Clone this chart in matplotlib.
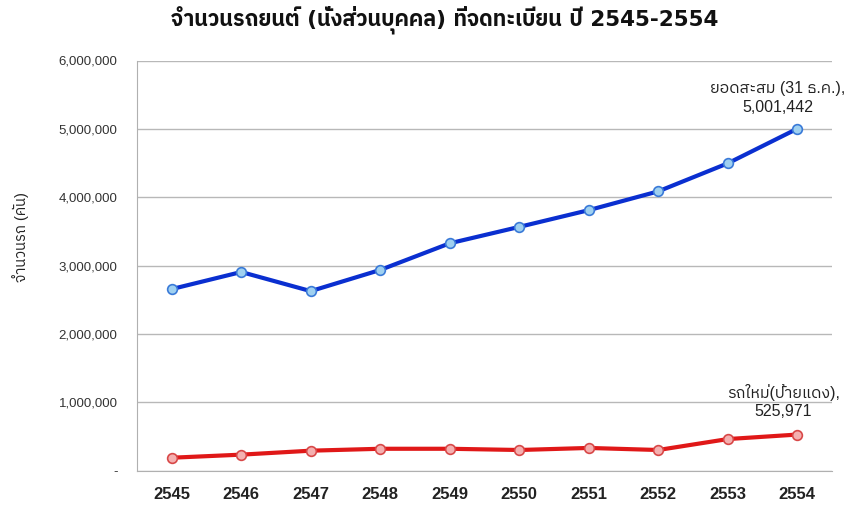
import matplotlib
matplotlib.use("Agg")
from matplotlib import pyplot as plt
from matplotlib import font_manager
from matplotlib.ticker import FuncFormatter

# data
years = ["2545", "2546", "2547", "2548", "2549", "2550", "2551", "2552", "2553", "2554"]
total_cars = [2655000, 2905000, 2625000, 2935000, 3325000, 3565000, 3810000, 4085000, 4495000, 5001442]
new_cars = [187000, 232000, 290000, 318000, 318000, 300000, 330000, 300000, 460000, 525971]

# pick a loopless font that has Thai glyphs and a real bold face
bold_names = set(f.name for f in font_manager.fontManager.ttflist if f.weight in (700, 'bold'))
thai = "DejaVu Sans"
for n in ["IBM Plex Sans Thai", "Noto Sans Thai", "Anuphan", "Prompt", "Bai Jamjuree", "Sarabun"]:
    if n in bold_names:
        thai = n
        break
plt.rcParams['font.family'] = ['Liberation Sans', thai, 'DejaVu Sans']

fig = plt.figure(figsize=(8.56, 5.05), dpi=100)
ax = fig.add_axes([137 / 856, 1 - 470.5 / 505, (832 - 137) / 856, (470.5 - 60.5) / 505])

x = list(range(len(years)))
ax.plot(x, total_cars, color='#0a2fd0', lw=3, marker='o', ms=7,
        mfc='#9fd0f0', mec='#3a7ad8', mew=1.2, zorder=3)
ax.plot(x, new_cars, color='#e01818', lw=3, marker='o', ms=7,
        mfc='#f4b0b0', mec='#d84848', mew=1.2, zorder=3)

ax.set_xlim(-0.5, len(years) - 0.5)
ax.set_ylim(0, 6000000)
ax.set_yticks(range(0, 6000001, 1000000))
ax.yaxis.set_major_formatter(FuncFormatter(lambda v, p: '-' if v == 0 else '{:,.0f}'.format(v)))
ax.set_xticks(x)
ax.set_xticklabels(years, fontsize=12, fontweight='bold', color='#222222')
ax.tick_params(axis='x', length=0, pad=12)
ax.tick_params(axis='y', length=0, pad=14, labelsize=9.5, labelcolor='#333333')
ax.grid(axis='y', color='#b8b8b8', lw=1)
ax.set_axisbelow(True)
for s in ['top', 'right']:
    ax.spines[s].set_visible(False)
ax.spines['left'].set_color('#b0b0b0')
ax.spines['bottom'].set_color('#b0b0b0')

ax.set_ylabel('จำนวนรถ (คัน)', fontsize=10.5, color='#222222')
ax.yaxis.set_label_coords(-108 / 695, 0.57)

fig.suptitle('จำนวนรถยนต์ (นั่งส่วนบุคคล) ที่จดทะเบียน ปี 2545-2554',
             x=445 / 856, y=1 - 5 / 505, va='top', fontsize=15.5, fontweight='bold',
             color='#111111', family=['DejaVu Sans', thai])

ax.annotate('ยอดสะสม (31 ธ.ค.),\n5,001,442', (x[-1], total_cars[-1]),
            xytext=(-14, 10), textcoords='offset points', ha='center', va='bottom',
            fontsize=11.5, color='#222222', linespacing=1.3)
ax.annotate('รถใหม่(ป้ายแดง),\n525,971', (x[-1], new_cars[-1]),
            xytext=(-10, 11), textcoords='offset points', ha='center', va='bottom',
            fontsize=11.5, color='#222222', linespacing=1.3)

fig.savefig('out.png', dpi=100)
